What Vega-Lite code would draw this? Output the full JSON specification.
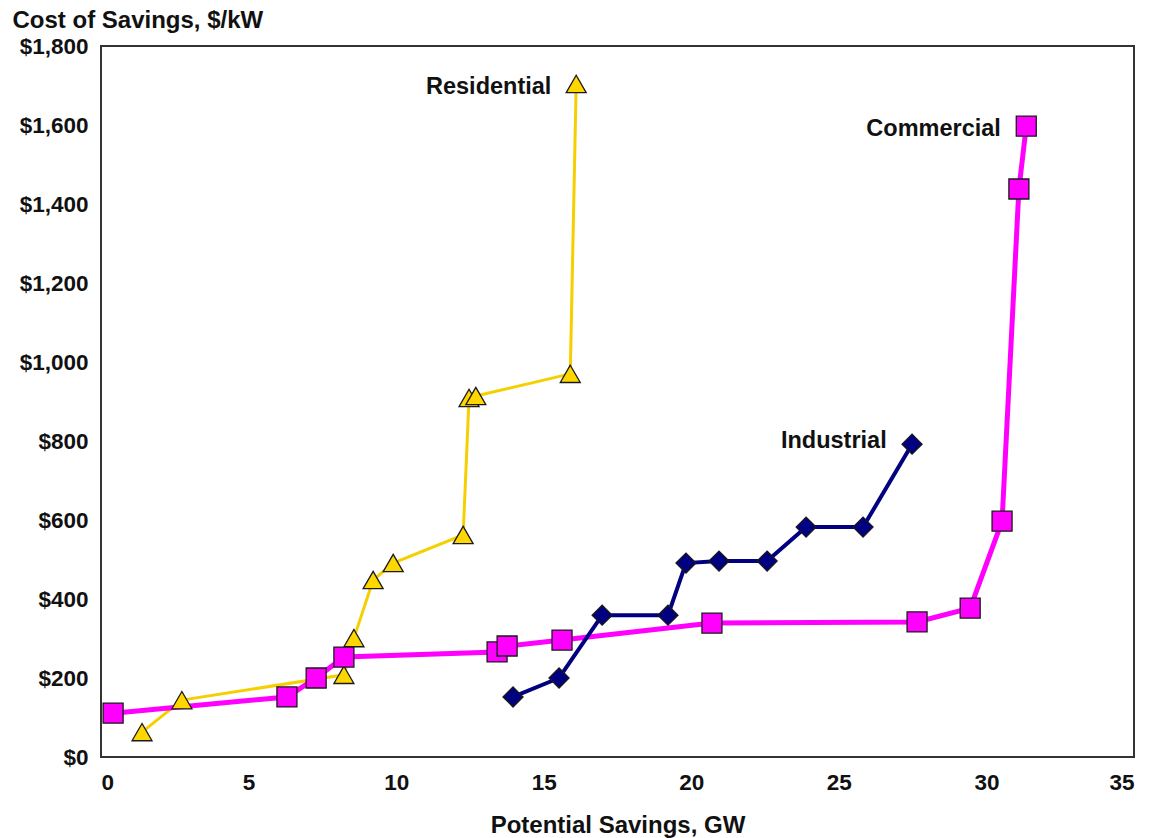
{
  "$schema": "https://vega.github.io/schema/vega-lite/v6.json",
  "autosize": {"type": "none"},
  "width": 1033,
  "height": 711,
  "padding": {"left": 101, "top": 46, "right": 17, "bottom": 81},
  "background": "white",
  "config": {
    "font": "Liberation Sans",
    "view": {"stroke": "#333333", "strokeWidth": 2},
    "axis": {"grid": false, "domain": false, "ticks": false, "labelFont": "Liberation Sans", "labelFontWeight": "bold", "labelFontSize": 22.5, "labelColor": "#111", "titleFont": "Liberation Sans", "titleFontWeight": "bold", "titleFontSize": 24, "titleColor": "#111"}
  },
  "datasets": {
    "pts": [
      {"series": "Residential", "o": 1, "gw": 1.39, "cost": 63},
      {"series": "Residential", "o": 2, "gw": 2.74, "cost": 144},
      {"series": "Residential", "o": 3, "gw": 8.23, "cost": 208},
      {"series": "Residential", "o": 4, "gw": 8.57, "cost": 301},
      {"series": "Residential", "o": 5, "gw": 9.22, "cost": 448},
      {"series": "Residential", "o": 6, "gw": 9.9, "cost": 491},
      {"series": "Residential", "o": 7, "gw": 12.27, "cost": 562},
      {"series": "Residential", "o": 8, "gw": 12.47, "cost": 909},
      {"series": "Residential", "o": 9, "gw": 12.7, "cost": 914},
      {"series": "Residential", "o": 10, "gw": 15.9, "cost": 970},
      {"series": "Residential", "o": 11, "gw": 16.1, "cost": 1704},
      {"series": "Commercial", "o": 1, "gw": 0.41, "cost": 111},
      {"series": "Commercial", "o": 2, "gw": 6.3, "cost": 152},
      {"series": "Commercial", "o": 3, "gw": 7.29, "cost": 200},
      {"series": "Commercial", "o": 4, "gw": 8.23, "cost": 253},
      {"series": "Commercial", "o": 5, "gw": 13.42, "cost": 266},
      {"series": "Commercial", "o": 6, "gw": 13.76, "cost": 281},
      {"series": "Commercial", "o": 7, "gw": 15.62, "cost": 296},
      {"series": "Commercial", "o": 8, "gw": 20.7, "cost": 339},
      {"series": "Commercial", "o": 9, "gw": 27.65, "cost": 342},
      {"series": "Commercial", "o": 10, "gw": 29.45, "cost": 377},
      {"series": "Commercial", "o": 11, "gw": 30.53, "cost": 597},
      {"series": "Commercial", "o": 12, "gw": 31.1, "cost": 1438},
      {"series": "Commercial", "o": 13, "gw": 31.35, "cost": 1597},
      {"series": "Industrial", "o": 1, "gw": 13.96, "cost": 152},
      {"series": "Industrial", "o": 2, "gw": 15.52, "cost": 200},
      {"series": "Industrial", "o": 3, "gw": 16.98, "cost": 359},
      {"series": "Industrial", "o": 4, "gw": 19.21, "cost": 359},
      {"series": "Industrial", "o": 5, "gw": 19.82, "cost": 491},
      {"series": "Industrial", "o": 6, "gw": 20.94, "cost": 496},
      {"series": "Industrial", "o": 7, "gw": 22.57, "cost": 496},
      {"series": "Industrial", "o": 8, "gw": 23.89, "cost": 582},
      {"series": "Industrial", "o": 9, "gw": 25.82, "cost": 582},
      {"series": "Industrial", "o": 10, "gw": 27.48, "cost": 792}
    ],
    "labels": [
      {"text": "Residential", "gw": 15.26, "cost": 1696},
      {"text": "Commercial", "gw": 30.49, "cost": 1590},
      {"text": "Industrial", "gw": 26.62, "cost": 800}
    ]
  },
  "encoding": {
    "x": {"field": "gw", "type": "quantitative", "scale": {"domain": [0, 35], "nice": false, "zero": true}, "axis": {"values": [0, 5, 10, 15, 20, 25, 30, 35], "title": "Potential Savings, GW", "labelPadding": 14, "titlePadding": 20}},
    "y": {"field": "cost", "type": "quantitative", "scale": {"domain": [0, 1800], "nice": false}, "axis": {"values": [0, 200, 400, 600, 800, 1000, 1200, 1400, 1600, 1800], "format": "$,.0f", "labelPadding": 13, "title": "Cost of Savings, $/kW", "titleAngle": 0, "titleAlign": "left", "titleBaseline": "alphabetic", "titleX": -89, "titleY": -19}}
  },
  "layer": [
    {"data": {"name": "pts"}, "transform": [{"filter": "datum.series === 'Residential'"}], "mark": {"type": "line", "color": "#F5D000", "strokeWidth": 3}, "encoding": {"order": {"field": "o", "type": "quantitative"}}},
    {"data": {"name": "pts"}, "transform": [{"filter": "datum.series === 'Commercial'"}], "mark": {"type": "line", "color": "#FF00FF", "strokeWidth": 5}, "encoding": {"order": {"field": "o", "type": "quantitative"}}},
    {"data": {"name": "pts"}, "transform": [{"filter": "datum.series === 'Industrial'"}], "mark": {"type": "line", "color": "#000080", "strokeWidth": 4}, "encoding": {"order": {"field": "o", "type": "quantitative"}}},
    {"data": {"name": "pts"}, "mark": {"type": "point", "filled": true, "stroke": "#1a1a1a", "strokeWidth": 1.3, "opacity": 1},
     "encoding": {
       "shape": {"field": "series", "type": "nominal", "scale": {"domain": ["Residential", "Commercial", "Industrial"], "range": ["triangle-up", "square", "diamond"]}, "legend": null},
       "fill": {"field": "series", "type": "nominal", "scale": {"domain": ["Residential", "Commercial", "Industrial"], "range": ["#FFD700", "#FF00FF", "#000080"]}, "legend": null},
       "size": {"field": "series", "type": "nominal", "scale": {"domain": ["Residential", "Commercial", "Industrial"], "range": [400, 400, 230]}, "legend": null}
     }},
    {"data": {"name": "labels"}, "mark": {"type": "text", "align": "right", "baseline": "middle", "font": "Liberation Sans", "fontWeight": "bold", "fontSize": 23.5, "color": "#111"},
     "encoding": {"text": {"field": "text", "type": "nominal"}}}
  ]
}
